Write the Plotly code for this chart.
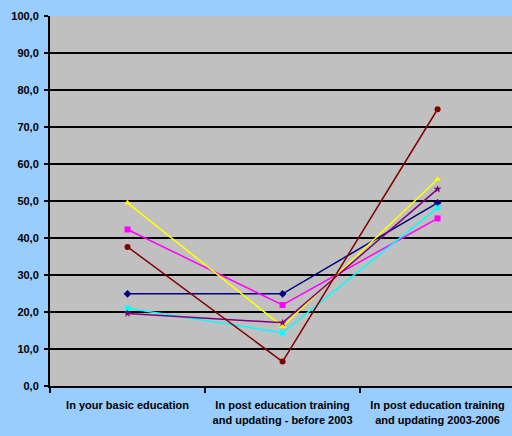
import plotly.graph_objects as go

categories = [
    "In your basic education",
    "In post education training<br>and updating - before 2003",
    "In post education training<br>and updating 2003-2006",
]
series_navy = [24.9, 24.9, 49.5]
series_magenta = [42.3, 21.9, 45.3]
series_yellow = [49.5, 16.1, 55.9]
series_cyan = [21.0, 14.4, 48.2]
series_purple = [19.6, 17.1, 53.2]
series_darkred = [37.6, 6.6, 74.8]
y_ticks = [0, 10, 20, 30, 40, 50, 60, 70, 80, 90, 100]
y_tick_labels = ["0,0", "10,0", "20,0", "30,0", "40,0", "50,0", "60,0", "70,0", "80,0", "90,0", "100,0"]

styles = [
    (series_navy, "#000080", "diamond"),
    (series_magenta, "#FF00FF", "square"),
    (series_yellow, "#FFFF00", "triangle-up"),
    (series_cyan, "#00FFFF", "x"),
    (series_purple, "#800080", "star"),
    (series_darkred, "#800000", "circle"),
]

fig = go.Figure()
for vals, color, sym in styles:
    fig.add_trace(go.Scatter(
        x=categories, y=vals, mode="lines+markers",
        line=dict(color=color, width=1.5),
        marker=dict(color=color, symbol=sym, size=6),
        showlegend=False, cliponaxis=False,
    ))

family = "Liberation Sans, Arial"
fig.update_layout(
    width=512, height=436,
    margin=dict(l=50, r=0, t=16, b=50),
    paper_bgcolor="#99CCFF",
    plot_bgcolor="#C0C0C0",
    font=dict(family=family, size=11, color="#000000"),
    xaxis=dict(
        type="category", range=[-0.5, 2.48], automargin=False,
        showline=True, linecolor="#000000", linewidth=2,
        ticks="outside", tickson="boundaries", ticklen=5, tickwidth=2, tickcolor="#000000",
        showgrid=False, ticklabelstandoff=8,
        tickfont=dict(family=family, size=11, color="#000000", weight="bold"),
    ),
    yaxis=dict(
        range=[0, 100], tickvals=y_ticks, ticktext=y_tick_labels, automargin=False,
        showline=True, linecolor="#000000", linewidth=2,
        ticks="outside", ticklen=4, tickwidth=2, tickcolor="#000000",
        showgrid=True, gridcolor="#000000", gridwidth=2,
        zeroline=False, ticklabelstandoff=3,
        tickfont=dict(family=family, size=11, color="#000000", weight="bold"),
    ),
)
fig.write_html(
    "out.html",
    config={"displayModeBar": False},
    post_script="document.body.style.margin='0';document.body.style.overflow='hidden';",
)
